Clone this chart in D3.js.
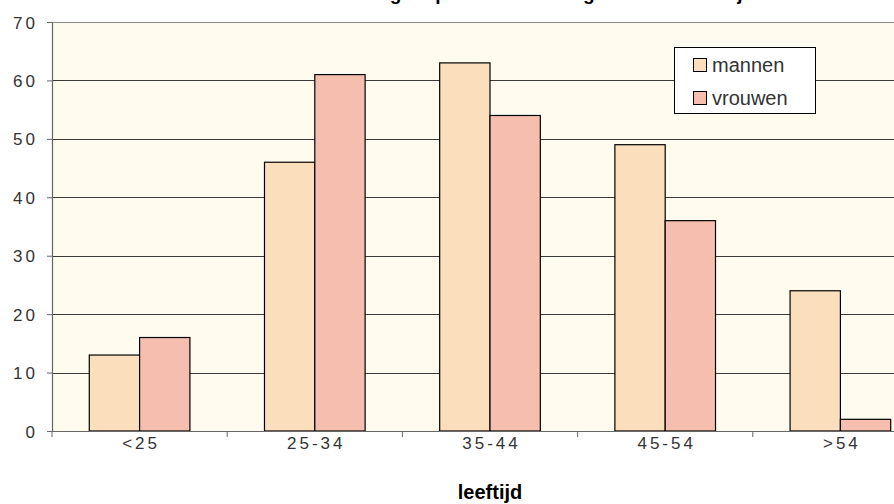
<!DOCTYPE html>
<html><head><meta charset="utf-8">
<script src="https://cdn.jsdelivr.net/npm/d3@7"></script>
<style>
html,body{margin:0;padding:0;background:#fff;}
svg{display:block;}
</style></head>
<body>
<svg id="c" width="894" height="504"></svg>
<script>
const categories = ["<25", "25-34", "35-44", "45-54", ">54"];
const seriesNames = ["mannen", "vrouwen"];
const mannen = [13, 46, 63, 49, 24];
const vrouwen = [16, 61, 54, 36, 2];
const yTicks = [0, 10, 20, 30, 40, 50, 60, 70];
const chartTitle = "Verdeling respondenten naar geslacht en leeftijd";
const xTitle = "leeftijd";

const colors = {mannen: "#FBDFBC", vrouwen: "#F6BEAF"};
const values = {mannen, vrouwen};

const svg = d3.select("#c");
const m = {left: 52, top: 22, bottom: 431, right: 928};

const x0 = d3.scaleBand().domain(categories).range([m.left, m.right]).padding(0);
const bw = x0.bandwidth();
const x1 = d3.scaleBand().domain(seriesNames).range([bw * 0.2128, bw * 0.7872]).padding(0);
const y = d3.scaleLinear().domain([0, 70]).range([m.bottom, m.top]);

// plot background
svg.append("rect").attr("x", m.left).attr("y", m.top)
  .attr("width", m.right - m.left).attr("height", m.bottom - m.top)
  .attr("fill", "#FFFCEF");

// gridlines
svg.append("g").selectAll("line").data(yTicks.filter(d => d > 0 && d < 70)).join("line")
  .attr("x1", m.left).attr("x2", m.right)
  .attr("y1", d => Math.round(y(d)) + 0.5).attr("y2", d => Math.round(y(d)) + 0.5)
  .attr("stroke", "#3a3a3a").attr("stroke-width", 1);
// top border
svg.append("line").attr("x1", m.left).attr("x2", m.right)
  .attr("y1", Math.round(y(70)) + 0.5).attr("y2", Math.round(y(70)) + 0.5)
  .attr("stroke", "#8a8a8a").attr("stroke-width", 1.2);

// bars
const groups = svg.append("g").selectAll("g").data(categories).join("g")
  .attr("transform", d => `translate(${x0(d)},0)`);
groups.selectAll("rect").data((d, i) => seriesNames.map(s => ({s, v: values[s][i]}))).join("rect")
  .attr("x", d => x1(d.s))
  .attr("y", d => y(d.v))
  .attr("width", x1.bandwidth())
  .attr("height", d => y(0) - y(d.v))
  .attr("fill", d => colors[d.s])
  .attr("stroke", "#000").attr("stroke-width", 1.2);

// y axis
const yAxis = svg.append("g").attr("transform", `translate(${m.left},0)`)
  .call(d3.axisLeft(y).tickValues(yTicks).tickSize(5).tickPadding(9).tickSizeOuter(0));
yAxis.select(".domain").attr("stroke", "#666").attr("stroke-width", 1.2);
yAxis.selectAll(".tick line").attr("stroke", "#666");
yAxis.selectAll(".tick text").attr("fill", "#333")
  .style("font-family", "'Liberation Sans', Arial, sans-serif").style("font-size", "17px")
  .style("letter-spacing", "3px").attr("dy", "0.36em");

// x axis
const xAxisScale = d3.scaleLinear().domain([0, categories.length]).range([m.left, m.right]);
const xAxis = svg.append("g").attr("transform", `translate(0,${m.bottom})`);
xAxis.append("line").attr("x1", m.left).attr("x2", m.right).attr("y1", 0.5).attr("y2", 0.5)
  .attr("stroke", "#666").attr("stroke-width", 1.2);
xAxis.selectAll("line.t").data(d3.range(categories.length + 1)).join("line").attr("class", "t")
  .attr("x1", d => xAxisScale(d)).attr("x2", d => xAxisScale(d))
  .attr("y1", 0).attr("y2", 6).attr("stroke", "#666");
xAxis.selectAll("text").data(categories).join("text")
  .attr("x", d => x0(d) + bw / 2 + 1.5).attr("y", 18)
  .attr("text-anchor", "middle").attr("fill", "#333")
  .style("font-family", "'Liberation Sans', Arial, sans-serif").style("font-size", "17px")
  .style("letter-spacing", "3px").text(d => d);

// x title
svg.append("text").attr("x", (m.left + m.right) / 2).attr("y", 499)
  .attr("text-anchor", "middle").attr("fill", "#000")
  .style("font-family", "'Liberation Sans', Arial, sans-serif").style("font-size", "20px")
  .style("font-weight", "bold").text(xTitle);

// chart title (clipped at top, as in the reference)
svg.append("text").attr("x", 535).attr("y", -0.5)
  .attr("text-anchor", "middle").attr("fill", "#000")
  .style("font-family", "'Liberation Sans', Arial, sans-serif").style("font-size", "19px")
  .style("font-weight", "bold").text(chartTitle);

// legend
const lg = svg.append("g").attr("transform", "translate(674,47)");
lg.append("rect").attr("x", 0.5).attr("y", 0.5).attr("width", 141).attr("height", 66)
  .attr("fill", "#fff").attr("stroke", "#000").attr("stroke-width", 1);
seriesNames.forEach((s, i) => {
  lg.append("rect").attr("x", 19.5).attr("y", 11.5 + i * 33).attr("width", 13).attr("height", 13)
    .attr("fill", colors[s]).attr("stroke", "#000").attr("stroke-width", 1);
  lg.append("text").attr("x", 38).attr("y", 25 + i * 33).attr("fill", "#333")
    .style("font-family", "'Liberation Sans', Arial, sans-serif").style("font-size", "20px")
    .text(s);
});
</script>
</body></html>
